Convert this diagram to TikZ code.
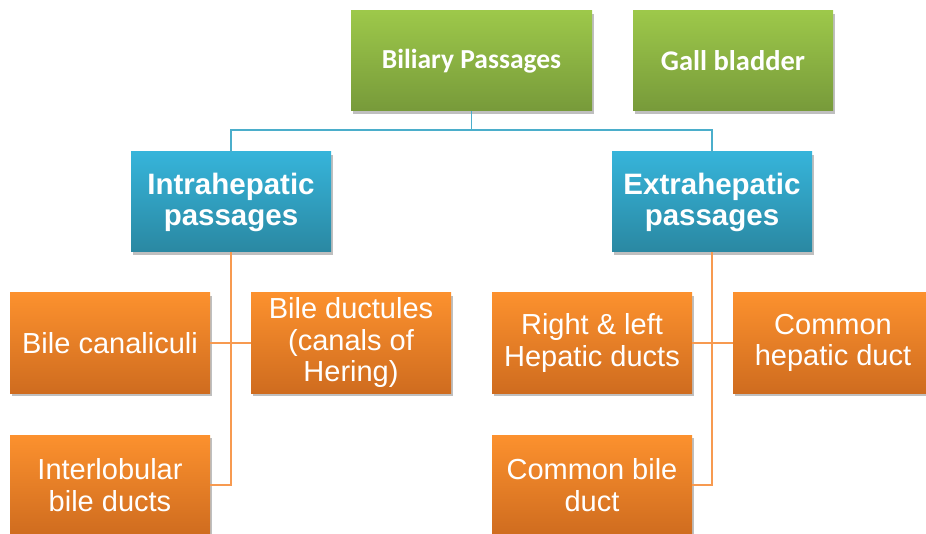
\documentclass[tikz,border=0pt]{standalone}
\usepackage{fontspec}
\setmainfont{Liberation Sans}
\newfontfamily\calib{Carlito}
\usetikzlibrary{shadows}
\definecolor{gTop}{HTML}{9DC84A}
\definecolor{gBot}{HTML}{779A3A}
\definecolor{bTop}{HTML}{36B4DA}
\definecolor{bBot}{HTML}{2A88A2}
\definecolor{oTop}{HTML}{FC912E}
\definecolor{oBot}{HTML}{CF6C1F}
\definecolor{bLine}{HTML}{4BAECB}
\definecolor{oLine}{HTML}{F79A50}
\begin{document}
\begin{tikzpicture}[x=1pt,y=-1pt,
  box/.style={minimum width=200pt,minimum height=100pt,inner sep=0pt,
    text=white,align=center,
    drop shadow={shadow xshift=2pt,shadow yshift=-3pt,opacity=0.25,fill=black}},
  greenbox/.style={box,top color=gTop,bottom color=gBot,
    font=\calib\bfseries\fontsize{28.5}{32}\selectfont},
  bluebox/.style={box,top color=bTop,bottom color=bBot,
    font=\bfseries\fontsize{29.5}{31}\selectfont},
  orangebox/.style={box,top color=oTop,bottom color=oBot,
    font=\fontsize{29}{31.5}\selectfont},
  bconn/.style={draw=bLine,line width=1.6pt},
  oconn/.style={draw=oLine,line width=1.6pt}]
\clip (0,0) rectangle (926,534);
\fill[white] (0,0) rectangle (926,534);
% nodes
\node[greenbox,minimum width=241pt,font=\calib\bfseries\fontsize{27.5}{32}\selectfont] (bp) at (471.5,61) {Biliary Passages};
\node[greenbox] (gb) at (733,61) {Gall bladder};
\node[bluebox] (ih) at (231,202) {Intrahepatic\\passages};
\node[bluebox] (eh) at (712,202) {Extrahepatic\\passages};
\node[orangebox] (bc) at (110,343) {Bile canaliculi};
\node[orangebox] (bd) at (351,343) {Bile ductules\\(canals of\\Hering)};
\node[orangebox] (ib) at (110,485) {Interlobular\\bile ducts};
\node[orangebox] (rl) at (592,343) {Right \& left\\Hepatic ducts};
\node[orangebox] (ch) at (833,343) {Common\\hepatic duct};
\node[orangebox] (cb) at (592,485) {Common bile\\duct};
% connectors
\coordinate (jt) at (471.5,130);
\path[bconn] (bp.south) -- (jt);
\path[bconn] (ih.north) |- (jt) -| (eh.north);
\path[oconn] (ih.south) |- (ib.east);
\path[oconn] (bc.east) -- (bd.west);
\path[oconn] (eh.south) |- (cb.east);
\path[oconn] (rl.east) -- (ch.west);
\end{tikzpicture}
\end{document}
